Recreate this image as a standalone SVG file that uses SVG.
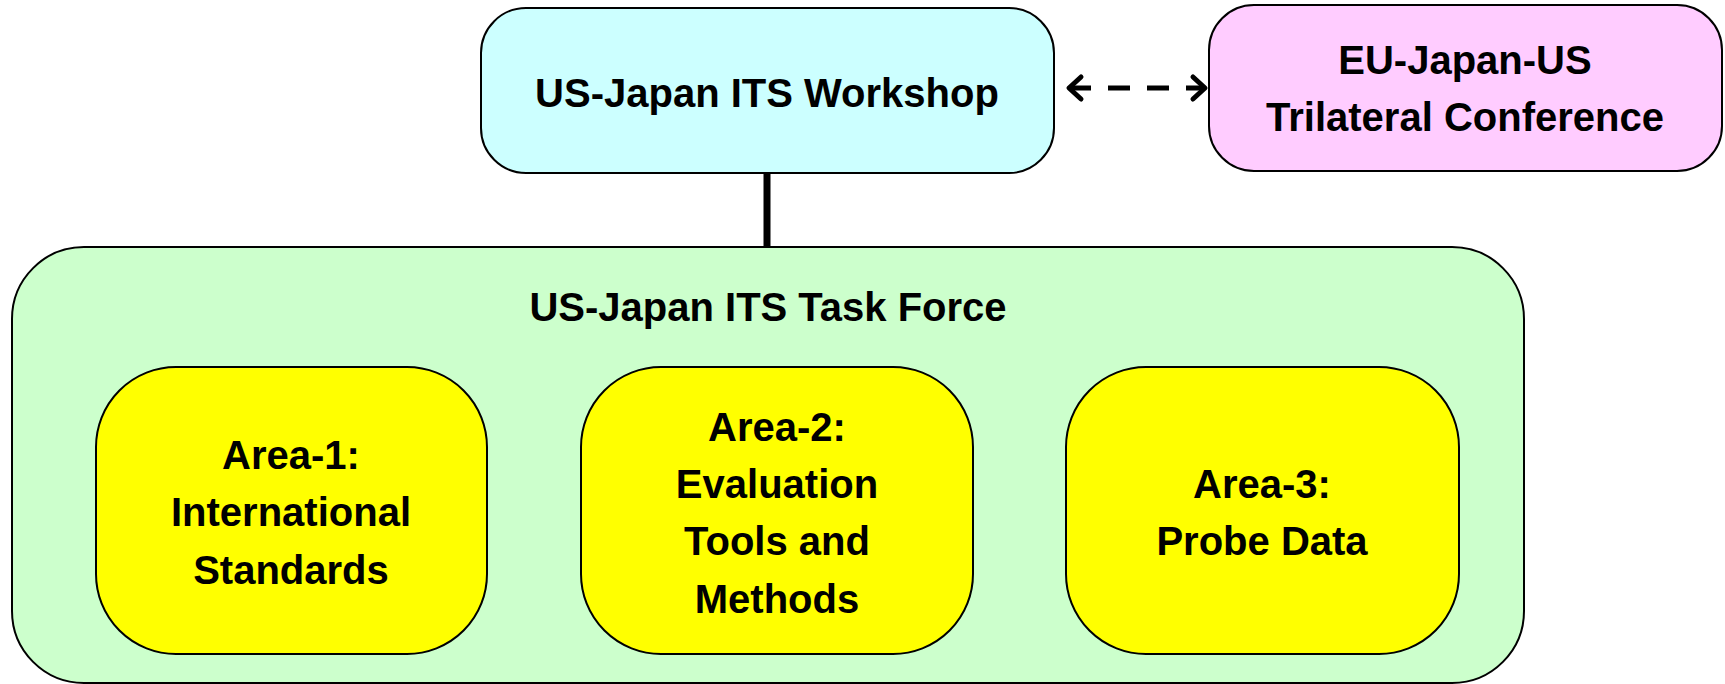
<svg xmlns="http://www.w3.org/2000/svg" width="1725" height="684" viewBox="0 0 1725 684">
<style>
.box{stroke:#000;stroke-width:2}
.t{font-family:"Liberation Sans",Arial,sans-serif;font-weight:bold;font-size:40px;fill:#000;text-anchor:middle}
.conn{stroke:#000;fill:none}
</style>
<defs>
<marker id="chev" viewBox="-20 -16 26 32" markerWidth="26" markerHeight="32" refX="0" refY="0" markerUnits="userSpaceOnUse" orient="auto-start-reverse" overflow="visible">
<path d="M-12,-11 L0,0 L-12,11" fill="none" stroke="#000" stroke-width="5" stroke-linecap="round" stroke-linejoin="round"/>
</marker>
</defs>
<rect width="1725" height="684" fill="#fff"/>
<g id="connectors">
<line class="conn" x1="767" y1="173" x2="767" y2="247" stroke-width="7"/>
<line class="conn" x1="1069" y1="88" x2="1205" y2="88" stroke-width="5" stroke-dasharray="22 17" marker-start="url(#chev)" marker-end="url(#chev)"/>
</g>
<g id="workshop">
<rect class="box" x="481" y="8" width="573" height="165" rx="45" fill="#CCFFFF"/>
<text class="t" x="767" y="107">US-Japan ITS Workshop</text>
</g>
<g id="trilateral">
<rect class="box" x="1209" y="5" width="513" height="166" rx="45" fill="#FFCCFF"/>
<text class="t" x="1465" y="74">EU-Japan-US</text>
<text class="t" x="1465" y="131">Trilateral Conference</text>
</g>
<g id="taskforce">
<rect class="box" x="12" y="247" width="1512" height="436" rx="72" fill="#CCFFCC"/>
<text class="t" x="768" y="321">US-Japan ITS Task Force</text>
</g>
<g id="area1">
<rect class="box" x="96" y="367" width="391" height="287" rx="80" fill="#FFFF00"/>
<text class="t" x="291" y="469">Area-1:</text>
<text class="t" x="291" y="526">International</text>
<text class="t" x="291" y="584">Standards</text>
</g>
<g id="area2">
<rect class="box" x="581" y="367" width="392" height="287" rx="80" fill="#FFFF00"/>
<text class="t" x="777" y="441">Area-2:</text>
<text class="t" x="777" y="498">Evaluation</text>
<text class="t" x="777" y="555">Tools and</text>
<text class="t" x="777" y="613">Methods</text>
</g>
<g id="area3">
<rect class="box" x="1066" y="367" width="393" height="287" rx="80" fill="#FFFF00"/>
<text class="t" x="1262" y="498">Area-3:</text>
<text class="t" x="1262" y="555">Probe Data</text>
</g>
</svg>
